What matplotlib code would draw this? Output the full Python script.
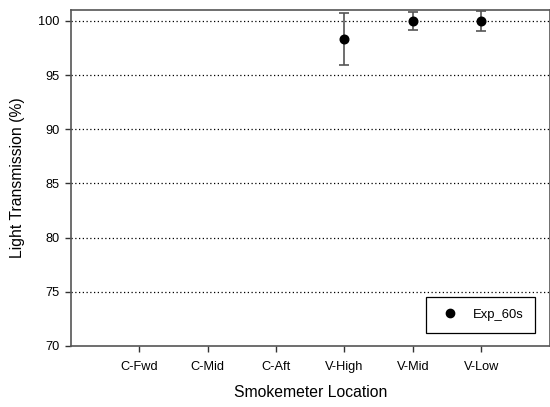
import matplotlib
matplotlib.use("Agg")
import matplotlib.pyplot as plt
from matplotlib.lines import Line2D
import numpy as np

plt.rcParams['font.family'] = ['Liberation Sans', 'DejaVu Sans']

categories = ["C-Fwd", "C-Mid", "C-Aft", "V-High", "V-Mid", "V-Low"]
means = [np.nan, np.nan, np.nan, 98.3, 100.0, 100.0]
errors = [np.nan, np.nan, np.nan, 2.4, 0.83, 0.9]
series_name = "Exp_60s"
y_ticks = [70, 75, 80, 85, 90, 95, 100]

W, H = 550, 407
fig = plt.figure(figsize=(W / 100, H / 100), dpi=100)
ax = fig.add_axes([71 / W, 1 - 346 / H, (549.5 - 71) / W, (346 - 10) / H])

x = np.arange(1, len(categories) + 1)
ax.errorbar(x, means, yerr=errors, fmt='o', color='black', markersize=6.2,
            ecolor='#555555', elinewidth=1.2, capsize=3.6, capthick=1.2,
            zorder=3)

ax.set_xlim(0, 7)
ax.set_ylim(70, 101)
ax.set_xticks(x)
ax.set_xticklabels(categories, fontsize=9.2)
ax.set_yticks(y_ticks)
ax.set_yticklabels([str(v) for v in y_ticks], fontsize=9.2)
ax.tick_params(direction='out', length=4.5, width=1, color='#333333', pad=4)
ax.tick_params(axis='x', pad=6)

for v in y_ticks[1:]:
    ax.axhline(v, color='black', linestyle=(0, (1, 2)), linewidth=0.9, zorder=1)

for s in ax.spines.values():
    s.set_color('#555555')
    s.set_linewidth(1.2)

ax.set_xlabel("Smokemeter Location", fontsize=11.3, labelpad=9)
ax.set_ylabel("Light Transmission (%)", fontsize=11.3, labelpad=9)

handle = Line2D([], [], marker='o', color='black', linestyle='none', markersize=6)
leg = ax.legend([handle], [series_name], loc='lower right',
                bbox_to_anchor=(535 / W, 1 - 332.7 / H),
                bbox_transform=fig.transFigure, borderaxespad=0,
                fontsize=9.4, frameon=True, fancybox=False, borderpad=0.9,
                handletextpad=0.84, handlelength=1.8)
leg.get_frame().set_edgecolor('black')
leg.get_frame().set_linewidth(0.9)
leg.get_frame().set_alpha(1)

fig.savefig("out.png", dpi=100)
